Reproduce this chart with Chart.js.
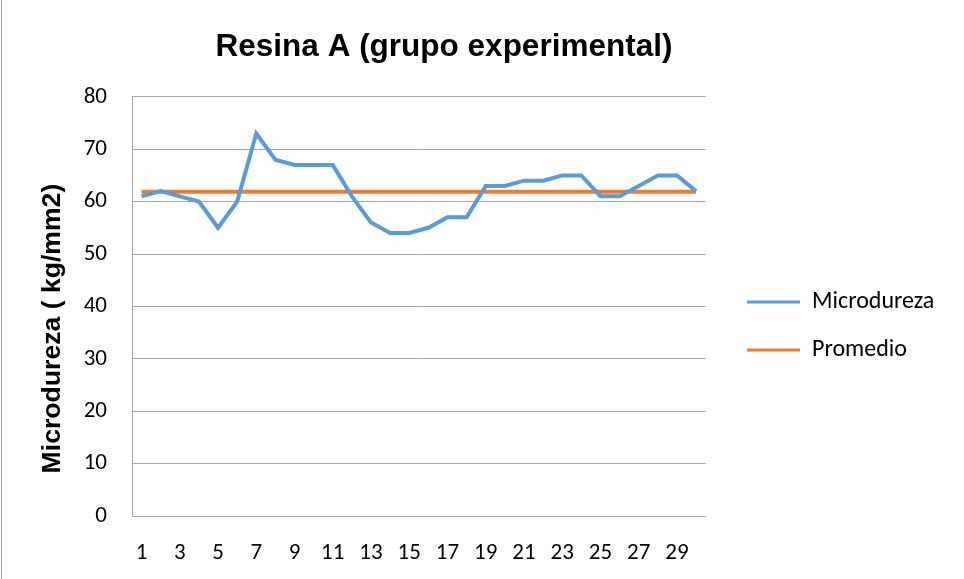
<!DOCTYPE html>
<html>
<head>
<meta charset="utf-8">
<script src="https://cdn.jsdelivr.net/npm/chart.js@4/dist/chart.umd.min.js"></script>
<style>
html,body{margin:0;padding:0;background:#fff;}
#wrap{position:relative;width:964px;height:579px;}
#edge{position:absolute;left:1px;top:0;width:1px;height:579px;background:#a6a6a6;}
</style>
</head>
<body>
<div id="wrap"><canvas id="c" width="964" height="579"></canvas><div id="edge"></div></div>
<script>
const categories = ['1','2','3','4','5','6','7','8','9','10','11','12','13','14','15','16','17','18','19','20','21','22','23','24','25','26','27','28','29','30'];
const microdureza = [61,62,61,60,55,60,73,68,67,67,67,61,56,54,54,55,57,57,63,63,64,64,65,65,61,61,63,65,65,62];
const promedio = [61.9,61.9,61.9,61.9,61.9,61.9,61.9,61.9,61.9,61.9,61.9,61.9,61.9,61.9,61.9,61.9,61.9,61.9,61.9,61.9,61.9,61.9,61.9,61.9,61.9,61.9,61.9,61.9,61.9,61.9];
const xTickLabels = ['1','3','5','7','9','11','13','15','17','19','21','23','25','27','29'];
const seriesNames = ['Microdureza','Promedio'];
const chartTitle = 'Resina A (grupo experimental)';
const yAxisTitle = 'Microdureza ( kg/mm2)';

const tickFont = {family: 'Carlito, Lato, "Open Sans", sans-serif', size: 23};
const gridColor = '#a6a6a6';

const placeBlocks = {
  id: 'placeBlocks',
  afterLayout(chart) {
    const t = chart.titleBlock;
    if (t) { t.left = 0; t.right = 888; }
    const lg = chart.legend;
    if (lg) {
      const pad = lg.options.labels.padding;
      const fs = lg.options.labels.font.size;
      const dx = 747 - pad - lg.left;
      lg.left += dx; lg.right += dx;
      const newTop = 302 - fs / 2 - pad;
      lg.top = newTop; lg.bottom = 579;
    }
  }
};

new Chart(document.getElementById('c'), {
  type: 'line',
  data: {
    labels: categories,
    datasets: [
      {label: seriesNames[0], data: microdureza, borderColor: '#5B9BD5', backgroundColor: '#5B9BD5', borderWidth: 4, pointRadius: 0, tension: 0, fill: false},
      {label: seriesNames[1], data: promedio, borderColor: '#ED7D31', backgroundColor: '#ED7D31', borderWidth: 4, pointRadius: 0, tension: 0, fill: false}
    ]
  },
  options: {
    responsive: false,
    animation: false,
    layout: {padding: {left: 0, right: 37, top: 0, bottom: 13}},
    plugins: {
      title: {
        display: true,
        text: chartTitle,
        color: '#000',
        font: {family: '"Liberation Sans", Arial, sans-serif', size: 31.5, weight: 'bold'},
        padding: {top: 28, bottom: 31}
      },
      legend: {
        display: true,
        position: 'right',
        align: 'start',
        labels: {
          usePointStyle: true,
          pointStyle: 'line',
          pointStyleWidth: 53,
          boxWidth: 53,
          padding: 24,
          color: '#000',
          font: {family: 'Carlito, Lato, "Open Sans", sans-serif', size: 24},
          generateLabels(chart) {
            return chart.data.datasets.map((d, i) => ({
              text: d.label, strokeStyle: d.borderColor, fillStyle: d.borderColor,
              lineWidth: 3, pointStyle: 'line', datasetIndex: i, hidden: false
            }));
          }
        }
      },
      tooltip: {enabled: false}
    },
    scales: {
      x: {
        type: 'category',
        offset: true,
        grid: {display: false, drawTicks: false},
        border: {display: true, color: gridColor, width: 1},
        ticks: {
          autoSkip: false, maxRotation: 0, minRotation: 0, padding: 23,
          color: '#000', font: tickFont,
          callback(v, i) { const l = categories[i]; return xTickLabels.includes(l) ? l : ''; }
        },
        afterFit(s) { s.height = 50; }
      },
      y: {
        min: 0, max: 80,
        grid: {color: gridColor, lineWidth: 1, drawTicks: false},
        border: {display: true, color: gridColor, width: 1},
        ticks: {stepSize: 10, padding: 25, color: '#000', font: tickFont},
        title: {
          display: true,
          text: yAxisTitle + '      ',
          color: '#000',
          font: {family: '"Liberation Sans", Arial, sans-serif', size: 26.6, weight: 'bold'},
          padding: {top: 37, bottom: 0}
        },
        afterFit(s) { s.width = 132; }
      }
    }
  },
  plugins: [placeBlocks]
});
</script>
</body>
</html>
